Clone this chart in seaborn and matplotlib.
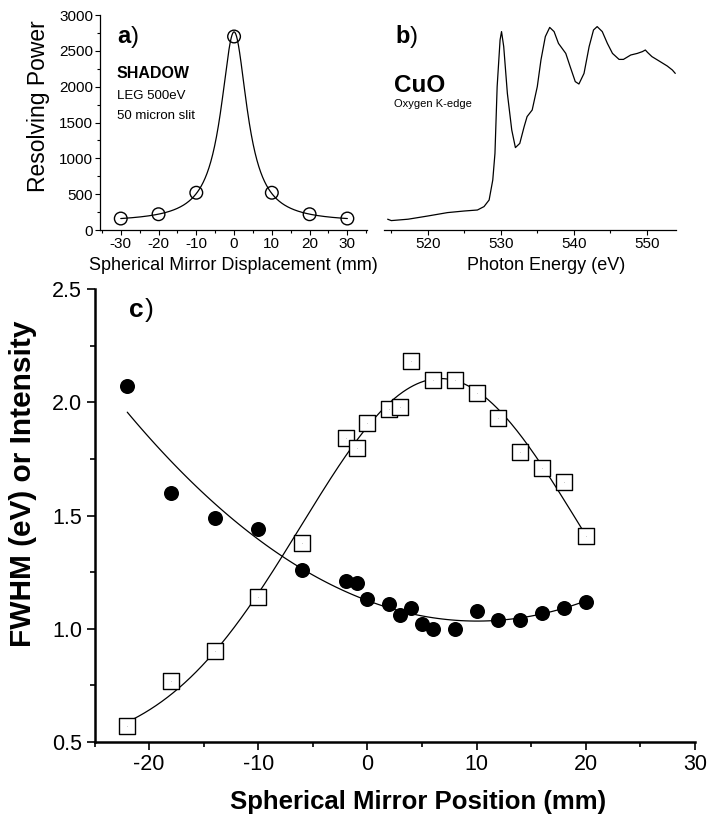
"""Three-panel figure: SHADOW resolving power, CuO O K-edge spectrum, FWHM/intensity vs mirror position."""

import matplotlib

matplotlib.use("Agg")
import matplotlib.pyplot as plt
from matplotlib.ticker import FormatStrFormatter, MultipleLocator
import numpy as np
import seaborn as sns

# panel a) resolving power from SHADOW ray tracing
disp_mm = np.array([-30, -20, -10, 0, 10, 20, 30])
resolving_power = np.array([160, 220, 520, 2700, 520, 220, 160])

# panel b) CuO oxygen K-edge spectrum (arbitrary units)
energy_ev = np.array([
    514.5, 515.0, 517.3, 520.0, 522.7, 525.0, 526.8, 527.7, 528.4, 528.9,
    529.2, 529.5, 529.9, 530.1, 530.4, 530.9, 531.5, 532.0, 532.6, 533.2,
    533.6, 534.3, 535.0, 535.5, 536.1, 536.7, 537.3, 537.9, 538.9, 539.5,
    540.2, 540.7, 541.4, 542.1, 542.7, 543.2, 543.9, 544.6, 545.3, 546.2,
    546.8, 547.8, 548.7, 549.4, 549.8, 550.1, 550.7, 551.6, 552.8, 553.5,
    553.9,
])
absorption = np.array([
    0.054, 0.047, 0.054, 0.070, 0.087, 0.095, 0.100, 0.117, 0.150, 0.250,
    0.383, 0.717, 0.950, 0.992, 0.917, 0.683, 0.500, 0.412, 0.433, 0.517,
    0.567, 0.600, 0.717, 0.850, 0.967, 1.013, 0.992, 0.933, 0.883, 0.817,
    0.742, 0.730, 0.783, 0.917, 1.000, 1.017, 0.992, 0.933, 0.883, 0.853,
    0.853, 0.875, 0.883, 0.892, 0.900, 0.888, 0.867, 0.847, 0.820, 0.800,
    0.783,
])

# panel c) measured FWHM (filled circles) and intensity (open squares)
fwhm_pos = np.array([-22, -18, -14, -10, -6, -2, -1, 0, 2, 3, 4, 5, 6, 8,
                     10, 12, 14, 16, 18, 20])
fwhm = np.array([2.07, 1.60, 1.49, 1.44, 1.26, 1.21, 1.20, 1.13, 1.11, 1.06,
                 1.09, 1.02, 1.00, 1.00, 1.08, 1.04, 1.04, 1.07, 1.09, 1.12])
inten_pos = np.array([-22, -18, -14, -10, -6, -2, -1, 0, 2, 3, 4, 6, 8, 10,
                      12, 14, 16, 18, 20])
intensity = np.array([0.57, 0.77, 0.90, 1.14, 1.38, 1.84, 1.80, 1.91, 1.97,
                      1.98, 2.18, 2.10, 2.10, 2.04, 1.93, 1.78, 1.71, 1.65,
                      1.41])


def baseline_fit(x, y, to_lin, from_lin, deg):
    # peak fit with a constant baseline: transform (y - y0) so the shape becomes a polynomial
    best = None
    for y0 in np.linspace(0, y.min() * 0.99, 300):
        coef = np.polyfit(x, to_lin(y - y0), deg)
        err = np.sum((y0 + from_lin(np.polyval(coef, x)) - y) ** 2)
        if best is None or err < best[0]:
            best = (err, y0, coef)
    return best[1], best[2]


sns.set_style("ticks")
plt.rcParams["font.family"] = ["Liberation Sans", "DejaVu Sans"]
plt.rcParams["axes.unicode_minus"] = False
for key in ("axes.edgecolor", "xtick.color", "ytick.color", "text.color", "axes.labelcolor"):
    plt.rcParams[key] = "black"

W, H = 707, 815
fig = plt.figure(figsize=(W / 100, H / 100), dpi=100)


def px_axes(left, top, right, bottom):
    return fig.add_axes([left / W, (H - bottom) / H, (right - left) / W, (bottom - top) / H])


def style_ticks(ax, size, major, minor, width, pad):
    ax.tick_params(which="major", direction="out", length=major, width=width,
                   labelsize=size, pad=pad)
    ax.tick_params(which="minor", direction="out", length=minor, width=width)


# ---- a) ----
ax_a = px_axes(100, 15, 367, 230)
sns.scatterplot(x=disp_mm, y=resolving_power, ax=ax_a, marker="o", s=83,
                facecolor="none", edgecolor="black", linewidth=1.0, zorder=3)
# Lorentzian: 1/(y - y0) is linear in x^2
y0_a, coef_a = baseline_fit(disp_mm.astype(float) ** 2, resolving_power.astype(float),
                            lambda v: 1.0 / v, lambda v: 1.0 / v, 1)
x_fit = np.linspace(disp_mm.min(), disp_mm.max(), 600)
sns.lineplot(x=x_fit, y=y0_a + 1.0 / np.polyval(coef_a, x_fit ** 2), ax=ax_a,
             color="black", linewidth=0.9)
ax_a.set_xlim(-35.5, 35.2)
ax_a.set_ylim(0, 3000)
ax_a.xaxis.set_major_locator(MultipleLocator(10))
ax_a.xaxis.set_minor_locator(MultipleLocator(5))
ax_a.yaxis.set_major_locator(MultipleLocator(500))
ax_a.yaxis.set_minor_locator(MultipleLocator(250))
style_ticks(ax_a, 11, 3.5, 2, 0.8, 1.5)
for s in ("top", "right"):
    ax_a.spines[s].set_visible(False)
for s in ("left", "bottom"):
    ax_a.spines[s].set_linewidth(0.9)
ax_a.set_xlabel("Spherical Mirror Displacement (mm)", fontsize=13)
ax_a.xaxis.set_label_coords(0.5, -0.125)
ax_a.xaxis.label.set_va("top")
ax_a.set_ylabel("Resolving Power", fontsize=16.5)
ax_a.yaxis.set_label_coords(-0.187, 0.577)
ax_a.text(-30.8, 2605, "a", fontsize=17, fontweight="bold", va="baseline")
ax_a.text(-27.4, 2605, ")", fontsize=17, va="baseline")
ax_a.text(-31, 2116, "SHADOW", fontsize=11.5, fontweight="bold", va="baseline")
ax_a.text(-31, 1823, "LEG 500eV", fontsize=9.5, va="baseline")
ax_a.text(-31, 1549, "50 micron slit", fontsize=9.5, va="baseline")

# ---- b) ----
ax_b = px_axes(384, 15, 676, 230)
sns.lineplot(x=energy_ev, y=absorption, ax=ax_b, color="black", linewidth=0.9)
ax_b.set_xlim(514, 554)
ax_b.set_ylim(0, 1.075)
ax_b.xaxis.set_major_locator(MultipleLocator(10))
ax_b.xaxis.set_minor_locator(MultipleLocator(5))
ax_b.set_yticks([])
style_ticks(ax_b, 11, 3.5, 2, 0.8, 1.5)
for s in ("top", "right", "left"):
    ax_b.spines[s].set_visible(False)
ax_b.spines["bottom"].set_linewidth(0.9)
ax_b.set_xlabel("Photon Energy (eV)", fontsize=13)
ax_b.xaxis.set_label_coords(0.555, -0.125)
ax_b.xaxis.label.set_va("top")
ax_b.set_ylabel("")
ax_b.text(515.6, 0.935, "b", fontsize=17, fontweight="bold", va="baseline")
ax_b.text(517.6, 0.935, ")", fontsize=17, va="baseline")
ax_b.text(515.4, 0.69, "CuO", fontsize=17.5, fontweight="bold", va="baseline")
ax_b.text(515.4, 0.615, "Oxygen K-edge", fontsize=8, va="baseline")

# ---- c) ----
ax_c = px_axes(94.5, 289, 695, 742)
sns.regplot(x=fwhm_pos, y=fwhm, order=2, ci=None, scatter=False, ax=ax_c,
            line_kws={"color": "black", "linewidth": 0.9})
# Gaussian on a baseline: log(y - y0) is quadratic in x
y0_c, coef_c = baseline_fit(inten_pos.astype(float), intensity,
                            np.log, np.exp, 2)
x_fit_c = np.linspace(inten_pos.min(), inten_pos.max(), 400)
sns.lineplot(x=x_fit_c, y=y0_c + np.exp(np.polyval(coef_c, x_fit_c)), ax=ax_c,
             color="black", linewidth=0.9)
sns.scatterplot(x=fwhm_pos, y=fwhm, ax=ax_c, marker="o", s=117,
                color="black", edgecolor="black", linewidth=0, zorder=3)
sns.scatterplot(x=inten_pos, y=intensity, ax=ax_c, marker="s", s=140,
                facecolor="white", edgecolor="black", linewidth=1.0, zorder=3)
sns.scatterplot(x=inten_pos, y=intensity, ax=ax_c, marker=".", s=2,
                color="black", linewidth=0, zorder=4)
ax_c.set_xlim(-25, 30)
ax_c.set_ylim(0.5, 2.5)
ax_c.xaxis.set_major_locator(MultipleLocator(10))
ax_c.xaxis.set_minor_locator(MultipleLocator(5))
ax_c.yaxis.set_major_locator(MultipleLocator(0.5))
ax_c.yaxis.set_minor_locator(MultipleLocator(0.25))
ax_c.yaxis.set_major_formatter(FormatStrFormatter("%.1f"))
style_ticks(ax_c, 15.5, 6, 3.8, 1.2, 3)
for s in ("top", "right"):
    ax_c.spines[s].set_visible(False)
for s in ("left", "bottom"):
    ax_c.spines[s].set_linewidth(1.8)
ax_c.set_xlabel("Spherical Mirror Position (mm)", fontsize=18.5, fontweight="bold")
ax_c.xaxis.set_label_coords(0.538, -0.106)
ax_c.xaxis.label.set_va("top")
ax_c.set_ylabel("FWHM (eV) or Intensity", fontsize=21.5, fontweight="bold")
ax_c.yaxis.set_label_coords(-0.096, 0.570)
ax_c.text(-21.8, 2.376, "c", fontsize=19, fontweight="bold", va="baseline")
ax_c.text(-20.4, 2.376, ")", fontsize=19, va="baseline")

fig.savefig("out.png", dpi=100)
plt.close(fig)
